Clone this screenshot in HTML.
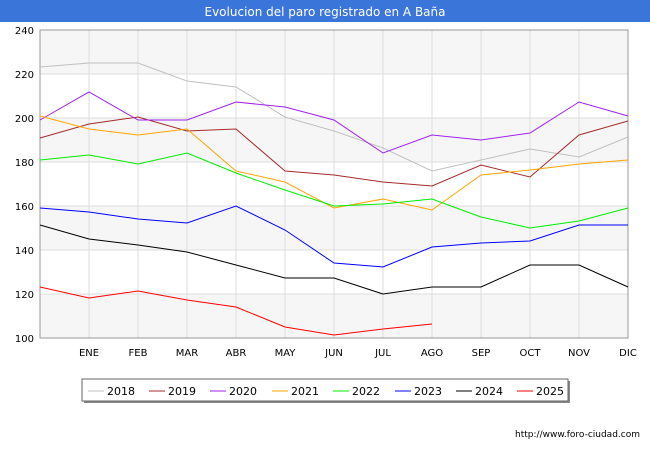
<!DOCTYPE html>
<html><head><meta charset="utf-8"><style>
body{margin:0;background:#fff;font-family:"DejaVu Sans",sans-serif}
</style></head><body>
<svg width="650" height="450" xmlns="http://www.w3.org/2000/svg" font-family="DejaVu Sans, sans-serif">
<rect x="0" y="0" width="650" height="450" fill="#fff"/>
<rect x="0" y="0" width="650" height="22" fill="#3a75d9"/>
<text x="325" y="16" font-size="12" fill="#fff" text-anchor="middle">Evolucion del paro registrado en A Baña</text>
<g fill="#f6f6f6">
<rect x="40" y="30" width="588" height="44"/>
<rect x="40" y="118" width="588" height="44"/>
<rect x="40" y="206" width="588" height="44"/>
<rect x="40" y="294" width="588" height="44"/>
</g>
<g stroke="#ddd" stroke-width="1">
<line x1="40" y1="74" x2="628" y2="74"/><line x1="40" y1="118" x2="628" y2="118"/>
<line x1="40" y1="162" x2="628" y2="162"/><line x1="40" y1="206" x2="628" y2="206"/>
<line x1="40" y1="250" x2="628" y2="250"/><line x1="40" y1="294" x2="628" y2="294"/>
<line x1="89" y1="30" x2="89" y2="338"/><line x1="138" y1="30" x2="138" y2="338"/>
<line x1="187" y1="30" x2="187" y2="338"/><line x1="236" y1="30" x2="236" y2="338"/>
<line x1="285" y1="30" x2="285" y2="338"/><line x1="334" y1="30" x2="334" y2="338"/>
<line x1="383" y1="30" x2="383" y2="338"/><line x1="432" y1="30" x2="432" y2="338"/>
<line x1="481" y1="30" x2="481" y2="338"/><line x1="530" y1="30" x2="530" y2="338"/>
<line x1="579" y1="30" x2="579" y2="338"/><line x1="628" y1="30" x2="628" y2="338"/>
</g>
<rect x="40" y="30" width="588" height="308" fill="none" stroke="#999"/>
<g font-size="10" fill="#000" text-anchor="end">
<text x="34" y="34">240</text><text x="34" y="78">220</text><text x="34" y="122">200</text>
<text x="34" y="166">180</text><text x="34" y="210">160</text><text x="34" y="254">140</text>
<text x="34" y="298">120</text><text x="34" y="342">100</text>
</g>
<g font-size="10" fill="#000" text-anchor="middle">
<text x="89" y="356">ENE</text><text x="138" y="356">FEB</text><text x="187" y="356">MAR</text>
<text x="236" y="356">ABR</text><text x="285" y="356">MAY</text><text x="334" y="356">JUN</text>
<text x="383" y="356">JUL</text><text x="432" y="356">AGO</text><text x="481" y="356">SEP</text>
<text x="530" y="356">OCT</text><text x="579" y="356">NOV</text><text x="628" y="356">DIC</text>
</g>
<g fill="none" stroke-width="1">
<polyline stroke="#c0c0c0" points="40,67 89,63 138,63 187,81 236,87 285,117 334,131 383,148 432,171 481,160 530,149 579,157 628,137"/>
<polyline stroke="#a52a2a" points="40,138 89,124 138,117 187,131 236,129 285,171 334,175 383,182 432,186 481,165 530,177 579,135 628,121"/>
<polyline stroke="#a020f0" points="40,120 89,92 138,120 187,120 236,102 285,107 334,120 383,153 432,135 481,140 530,133 579,102 628,116"/>
<polyline stroke="#ffa500" points="40,116 89,129 138,135 187,129 236,171 285,182 334,208 383,199 432,210 481,175 530,170 579,164 628,160"/>
<polyline stroke="#00ee00" points="40,160 89,155 138,164 187,153 236,173 285,190 334,206 383,204 432,199 481,217 530,228 579,221 628,208"/>
<polyline stroke="#0000ff" points="40,208 89,212 138,219 187,223 236,206 285,230 334,263 383,267 432,247 481,243 530,241 579,225 628,225"/>
<polyline stroke="#000" points="40,225 89,239 138,245 187,252 236,265 285,278 334,278 383,294 432,287 481,287 530,265 579,265 628,287"/>
<polyline stroke="#ff0000" points="40,287 89,298 138,291 187,300 236,307 285,327 334,335 383,329 432,324"/>
</g>
<rect x="84" y="381" width="486" height="22" fill="#888"/>
<rect x="82" y="379" width="486" height="22" fill="#fff" stroke="#666"/>
<g font-size="11" fill="#000">
<line x1="88" y1="391" x2="104" y2="391" stroke="#c0c0c0"/><text x="107" y="395">2018</text>
<line x1="149" y1="391" x2="165" y2="391" stroke="#a52a2a"/><text x="168" y="395">2019</text>
<line x1="210" y1="391" x2="226" y2="391" stroke="#a020f0"/><text x="229" y="395">2020</text>
<line x1="272" y1="391" x2="288" y2="391" stroke="#ffa500"/><text x="291" y="395">2021</text>
<line x1="333" y1="391" x2="349" y2="391" stroke="#00ee00"/><text x="352" y="395">2022</text>
<line x1="395" y1="391" x2="411" y2="391" stroke="#0000ff"/><text x="414" y="395">2023</text>
<line x1="456" y1="391" x2="472" y2="391" stroke="#000"/><text x="475" y="395">2024</text>
<line x1="517" y1="391" x2="533" y2="391" stroke="#ff0000"/><text x="536" y="395">2025</text>
</g>
<text x="640" y="437" font-size="9" fill="#000" text-anchor="end">http://www.foro-ciudad.com</text>
</svg>
</body></html>
